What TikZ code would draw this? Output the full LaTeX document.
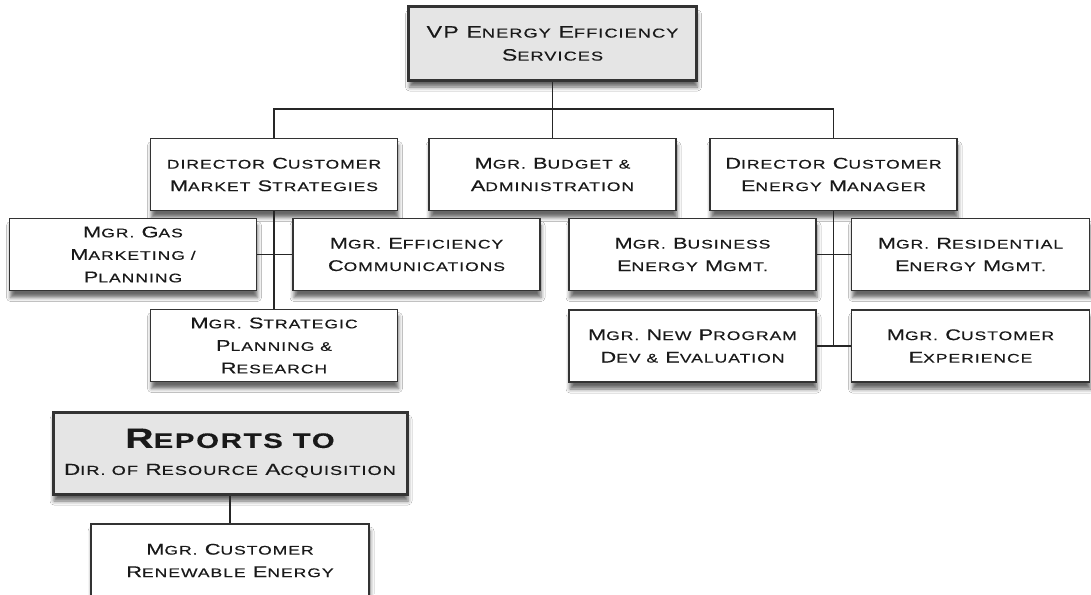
\documentclass[tikz,border=0pt]{standalone}
\usepackage{fontspec}
\usepackage{tikz}
\usetikzlibrary{shadows.blur}

\newfontfamily\copper[FakeStretch=1.4,LetterSpace=8,FakeBold=0.4]{Liberation Sans}
\newcommand\smsize{12.5}
% small capitals by hand: the rest of a word, set smaller
\newcommand\sm[1]{{\fontsize{\smsize}{22.5}\selectfont#1}}

\tikzset{
  every picture/.append style={line width=1.2pt},
}

\begin{document}
\begin{tikzpicture}[
  x=1pt, y=-1pt,
  box/.style  ={draw=black!80, line width=1.3pt, fill=white, align=center,
                minimum width=247pt, minimum height=72pt, inner sep=2pt,
                text=black!90, font=\copper\fontsize{15.5}{22.5}\selectfont,
                blur shadow={shadow xshift=1pt, shadow yshift=-7pt,
                             shadow blur radius=4pt, shadow opacity=60}},
  head/.style ={box, line width=3pt, fill=black!10},
  link/.style ={draw=black!85, line width=1.2pt}
]
\useasboundingbox (0,0) rectangle (1091,594);
\clip (0,0) rectangle (1091,594);
\fill[white] (0,0) rectangle (1091,594);

% top of the tree
\node[head, minimum width=288pt, minimum height=73pt,
      font={\renewcommand\smsize{13}\copper\fontsize{16.5}{23}\selectfont}]
  (vp) at (552.5,43.5) {VP E\sm{NERGY} E\sm{FFICIENCY}\\S\sm{ERVICES}};

\node[box] (cms)    at (274,174.5)   {\sm{DIRECTOR} C\sm{USTOMER}\\M\sm{ARKET} S\sm{TRATEGIES}};
\node[box] (budget) at (552.5,174.5) {M\sm{GR.} B\sm{UDGET \&}\\A\sm{DMINISTRATION}};
\node[box] (cem)    at (833.5,174.5) {D\sm{IRECTOR} C\sm{USTOMER}\\E\sm{NERGY} M\sm{ANAGER}};

% under market strategies
\node[box] (gas)   at (133,254.5)   {M\sm{GR.} G\sm{AS}\\M\sm{ARKETING /}\\P\sm{LANNING}};
\node[box] (eff)   at (416.5,254.5) {M\sm{GR.} E\sm{FFICIENCY}\\C\sm{OMMUNICATIONS}};
\node[box] (strat) at (274,345.5)   {M\sm{GR.} S\sm{TRATEGIC}\\P\sm{LANNING \&}\\R\sm{ESEARCH}};

% under energy manager
\node[box] (biz)  at (692.5,254.5) {M\sm{GR.} B\sm{USINESS}\\E\sm{NERGY} M\sm{GMT.}};
\node[box, minimum width=238pt] (res) at (970.5,254.5) {M\sm{GR.} R\sm{ESIDENTIAL}\\E\sm{NERGY} M\sm{GMT.}};
\node[box] (newp) at (692.5,346)   {M\sm{GR.} N\sm{EW} P\sm{ROGRAM}\\D\sm{EV \&} E\sm{VALUATION}};
\node[box, minimum width=238pt] (exp)  at (970.5,346)   {M\sm{GR.} C\sm{USTOMER}\\E\sm{XPERIENCE}};

% separate reporting line
\node[head, minimum width=354pt, minimum height=82pt,
      font={\renewcommand\smsize{13}\copper\fontsize{16}{27}\selectfont}]
  (reports) at (230,453)
  {{\bfseries\fontsize{28}{30}\selectfont R{\fontsize{21}{30}\selectfont EPORTS TO}}\\
   D\sm{IR. OF} R\sm{ESOURCE} A\sm{CQUISITION}};
\node[box, minimum width=278pt, minimum height=73pt] (renew) at (230,560.5)
  {M\sm{GR.} C\sm{USTOMER}\\R\sm{ENEWABLE} E\sm{NERGY}};

% connectors
\coordinate (bus) at (0,109);
\draw[link] (vp.south) -- (budget.north);
\draw[link] (cms.north) -- (cms.north |- bus) -| (cem.north);
\draw[link] (cms.south) -- (strat.north);
\draw[link] (cem.south) -- (cem.south |- newp.east);
\foreach \a/\b in {gas/eff, biz/res, newp/exp}{
  \draw[link] (\a.east) -- (\b.west);
}
\draw[link] (reports.south) -- (renew.north);

\end{tikzpicture}
\end{document}
